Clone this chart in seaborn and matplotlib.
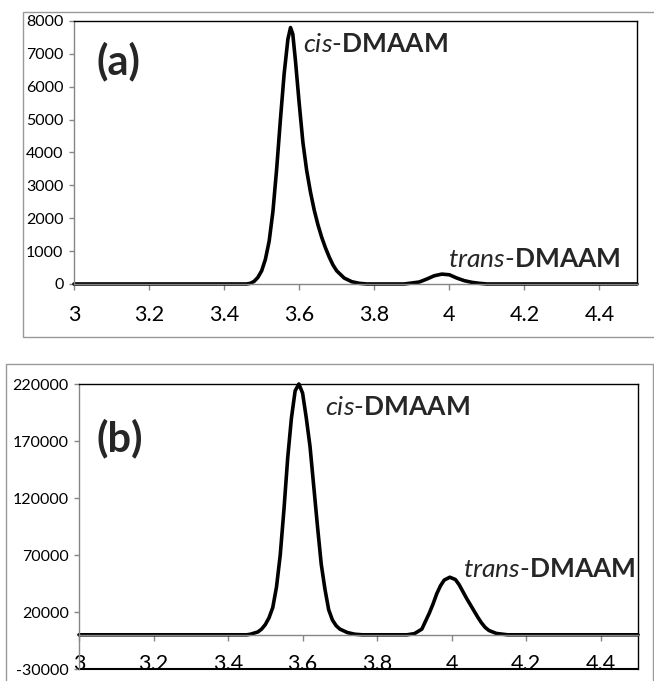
import numpy as np
import pandas as pd
import matplotlib
matplotlib.use("Agg")
import matplotlib.pyplot as plt
import seaborn as sns
from matplotlib.patches import Rectangle

# panel (a) chromatogram
time_a = [3.00, 3.44, 3.46, 3.47, 3.48, 3.49, 3.50, 3.51, 3.52, 3.53, 3.54, 3.55,
          3.56, 3.57, 3.577, 3.583, 3.59, 3.60, 3.61, 3.62, 3.63, 3.64, 3.65,
          3.66, 3.67, 3.68, 3.69, 3.70, 3.72, 3.74, 3.76, 3.78, 3.88, 3.90,
          3.92, 3.94, 3.96, 3.98, 4.00, 4.02, 4.04, 4.06, 4.08, 4.10, 4.50]
signal_a = [0, 0, 0, 20, 80, 200, 400, 750, 1300, 2200, 3500, 5000,
            6400, 7450, 7800, 7600, 6800, 5500, 4300, 3450, 2800, 2250, 1800,
            1420, 1100, 820, 580, 400, 180, 70, 20, 0, 0, 30,
            60, 150, 250, 300, 280, 180, 100, 50, 20, 0, 0]

# panel (b)
time_b = [3.00, 3.45, 3.46, 3.47, 3.48, 3.49, 3.50, 3.51, 3.52, 3.53, 3.54, 3.55,
          3.56, 3.57, 3.58, 3.59, 3.60, 3.61, 3.62, 3.63, 3.64, 3.65, 3.66,
          3.67, 3.68, 3.69, 3.70, 3.72, 3.74, 3.76, 3.88, 3.90, 3.92, 3.94,
          3.95, 3.96, 3.97, 3.98, 3.995, 4.01, 4.02, 4.03, 4.04, 4.05, 4.06,
          4.07, 4.08, 4.09, 4.10, 4.12, 4.15, 4.50]
signal_b = [0, 0, 500, 1500, 2500, 5000, 9000, 15000, 24000, 42000, 70000, 110000,
            155000, 190000, 214000, 220000, 212000, 190000, 165000, 130000, 95000, 62000, 40000,
            22000, 13000, 8000, 5000, 2000, 500, 0, 0, 1000, 5000, 19000,
            27000, 36000, 43000, 48000, 50500, 48500, 44000, 38000, 32000, 26500, 21000,
            15500, 10500, 6500, 3800, 1200, 0, 0]

xticks = [3, 3.2, 3.4, 3.6, 3.8, 4, 4.2, 4.4]
xtick_labels = ["3", "3.2", "3.4", "3.6", "3.8", "4", "4.2", "4.4"]
yticks_a = list(range(0, 8001, 1000))
yticks_b = [-30000, 20000, 70000, 120000, 170000, 220000]

sns.set_style("white")
plt.rcParams["font.family"] = ["Lato", "DejaVu Sans"]
plt.rcParams["mathtext.fontset"] = "custom"
plt.rcParams["mathtext.rm"] = "Lato"
plt.rcParams["mathtext.it"] = "Lato:italic"
plt.rcParams["mathtext.bf"] = "Lato:bold"

grey = "#868686"

fig = plt.figure(figsize=(6.54, 6.81), dpi=100)

# outer chart frames (Excel style)
fig.patches.append(Rectangle((0.0352, 0.505), 0.97, 0.477, transform=fig.transFigure,
                             fill=False, edgecolor="#999999", lw=1.0))
fig.patches.append(Rectangle((0.0092, -0.05), 0.99, 0.5155, transform=fig.transFigure,
                             fill=False, edgecolor="#999999", lw=1.0))

ax1 = fig.add_axes([0.1131, 0.5830, 0.8609, 0.3862])
ax2 = fig.add_axes([0.1208, 0.01762, 0.8547, 0.4185])

# panel (b): horizontal axis crosses at 0
ax2.spines["bottom"].set_position(("data", 0))

df_a = pd.DataFrame({"t": time_a, "s": signal_a})
df_b = pd.DataFrame({"t": time_b, "s": signal_b})

sns.lineplot(data=df_a, x="t", y="s", ax=ax1, color="black", lw=2.6, clip_on=False)
sns.lineplot(data=df_b, x="t", y="s", ax=ax2, color="black", lw=2.6, clip_on=False)

for ax, yt in [(ax1, yticks_a), (ax2, yticks_b)]:
    ax.set_xlim(3, 4.5)
    ax.set_ylim(yt[0], yt[-1])
    ax.set_xticks(xticks)
    ax.set_xticklabels(xtick_labels)
    ax.set_yticks(yt)
    ax.set_yticklabels([str(v) for v in yt])
    ax.set_xlabel("")
    ax.set_ylabel("")
    ax.tick_params(axis="x", direction="out", length=4, width=1, color=grey,
                   labelcolor="black", bottom=True, labelsize=15.5)
    ax.tick_params(axis="y", direction="out", length=3.5, width=1, color=grey,
                   labelcolor="black", left=True, pad=4, labelsize=11.5)
    ax.spines["left"].set_color(grey)
    ax.spines["bottom"].set_color(grey)
    ax.spines["top"].set_color("black")
    ax.spines["right"].set_color("black")
    for s in ax.spines.values():
        s.set_linewidth(1.0)

ax1.tick_params(axis="x", pad=11)
ax2.tick_params(axis="x", pad=10)
ax2.axhline(yticks_b[0], color="black", lw=1.5, clip_on=False)

lbl_cis = r"$\mathit{cis}$-$\mathbf{DMAAM}$"
lbl_trans = r"$\mathit{trans}$-$\mathbf{DMAAM}$"

ax1.text(3.061, 6783, "(a)", fontsize=30, fontweight="bold", ha="left", va="center")
ax1.text(3.61, 7270, lbl_cis, fontsize=19, ha="left", va="center")
ax1.text(3.997, 730, lbl_trans, fontsize=19, ha="left", va="center")

ax2.text(3.048, 172600, "(b)", fontsize=30, fontweight="bold", ha="left", va="center")
ax2.text(3.66, 199000, lbl_cis, fontsize=19, ha="left", va="center")
ax2.text(4.03, 56900, lbl_trans, fontsize=19, ha="left", va="center")

fig.savefig("out.png", dpi=100)
